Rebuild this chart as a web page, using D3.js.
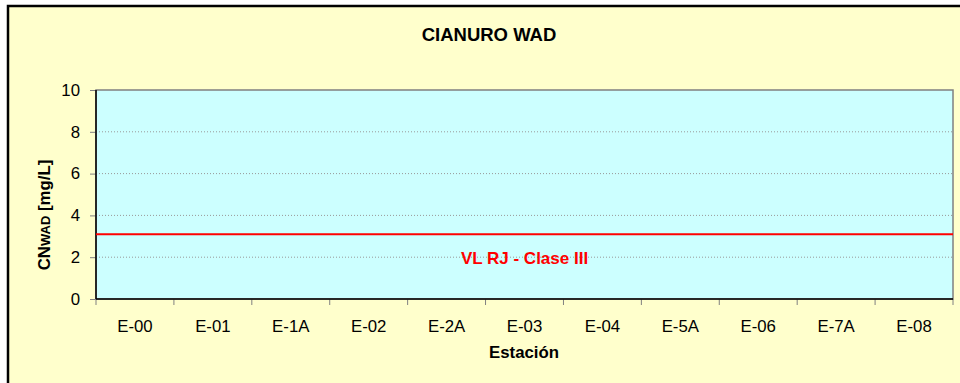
<!DOCTYPE html>
<html>
<head>
<meta charset="utf-8">
<script src="https://cdn.jsdelivr.net/npm/d3@7"></script>
<style>
  body { margin: 0; background: #fff; }
  svg { display: block; font-family: Arial, "Liberation Sans", sans-serif; }
</style>
</head>
<body>
<div id="chart"></div>
<script>
// données
const estaciones = ["E-00", "E-01", "E-1A", "E-02", "E-2A", "E-03", "E-04", "E-5A", "E-06", "E-7A", "E-08"];
const yTicks = [0, 2, 4, 6, 8, 10];
const limiteValor = 3.1;
const limiteTexto = "VL RJ - Clase III";

const W = 960, H = 383;
const m = { left: 96, top: 90, right: 953, bottom: 299 };
const fs = 16.8;

const svg = d3.select("#chart").append("svg")
  .attr("width", W).attr("height", H);

// fond du graphique
svg.append("rect")
  .attr("x", 8).attr("y", 6)
  .attr("width", 980).attr("height", 400)
  .attr("fill", "#FFFFCC")
  .attr("stroke", "#000").attr("stroke-width", 2.5);

const x = d3.scaleBand().domain(estaciones).range([m.left, m.right]);
const y = d3.scaleLinear().domain([0, 10]).range([m.bottom, m.top]);

// zone de tracé
svg.append("rect")
  .attr("x", m.left).attr("y", m.top)
  .attr("width", m.right - m.left).attr("height", m.bottom - m.top)
  .attr("fill", "#CCFFFF")
  .attr("stroke", "#808080").attr("stroke-width", 1.5);

// grille
svg.append("g").selectAll("line")
  .data(yTicks.filter(d => d > 0 && d < 10))
  .join("line")
  .attr("x1", m.left).attr("x2", m.right)
  .attr("y1", d => y(d)).attr("y2", d => y(d))
  .attr("stroke", "#999").attr("stroke-width", 1)
  .attr("stroke-dasharray", "1,2");

// axe y
const yAxis = svg.append("g")
  .attr("transform", `translate(${m.left},0)`)
  .call(d3.axisLeft(y).tickValues(yTicks).tickSize(6).tickPadding(10));
yAxis.select(".domain").remove();
yAxis.selectAll(".tick line").attr("stroke", "#808080");
yAxis.selectAll(".tick text")
  .attr("font-size", fs).attr("fill", "#000")
  .attr("font-family", "Arial, 'Liberation Sans', sans-serif");
svg.append("line")
  .attr("x1", m.left).attr("x2", m.left)
  .attr("y1", m.top).attr("y2", m.bottom)
  .attr("stroke", "#000").attr("stroke-width", 1.5);

// axe x
const xAxis = svg.append("g")
  .attr("transform", `translate(0,${m.bottom})`)
  .call(d3.axisBottom(x).tickSize(0).tickPadding(21));
xAxis.select(".domain").remove();
xAxis.selectAll(".tick text")
  .attr("font-size", fs).attr("fill", "#000")
  .attr("font-family", "Arial, 'Liberation Sans', sans-serif");
svg.append("g").selectAll("line")
  .data(estaciones.concat(["fin"]))
  .join("line")
  .attr("x1", (d, i) => m.left + i * x.bandwidth())
  .attr("x2", (d, i) => m.left + i * x.bandwidth())
  .attr("y1", m.bottom).attr("y2", m.bottom + 6)
  .attr("stroke", "#808080");
svg.append("line")
  .attr("x1", m.left).attr("x2", m.right)
  .attr("y1", m.bottom).attr("y2", m.bottom)
  .attr("stroke", "#000").attr("stroke-width", 1.5);

// ligne limite
svg.append("line")
  .attr("x1", m.left).attr("x2", m.right)
  .attr("y1", y(limiteValor)).attr("y2", y(limiteValor))
  .attr("stroke", "#FF0000").attr("stroke-width", 2);
svg.append("text")
  .attr("x", (m.left + m.right) / 2).attr("y", 264)
  .attr("text-anchor", "middle")
  .attr("font-size", 17).attr("font-weight", "bold")
  .attr("fill", "#FF0000")
  .text(limiteTexto);

// titres
svg.append("text")
  .attr("x", 489).attr("y", 41)
  .attr("text-anchor", "middle")
  .attr("font-size", 18.5).attr("font-weight", "bold")
  .text("CIANURO WAD");

svg.append("text")
  .attr("x", 524).attr("y", 358)
  .attr("text-anchor", "middle")
  .attr("font-size", fs).attr("font-weight", "bold")
  .text("Estación");

const yLabel = svg.append("text")
  .attr("transform", "translate(50,215) rotate(-90)")
  .attr("text-anchor", "middle")
  .attr("font-size", fs).attr("font-weight", "bold");
yLabel.append("tspan").text("CN");
yLabel.append("tspan").attr("font-size", 13).text("WAD");
yLabel.append("tspan").text(" [mg/L]");
</script>
</body>
</html>
